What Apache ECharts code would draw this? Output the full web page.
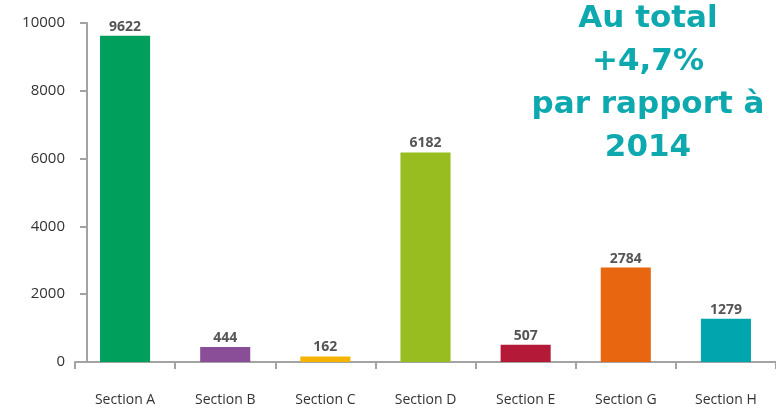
<!DOCTYPE html>
<html><head><meta charset="utf-8">
<script src="https://cdn.jsdelivr.net/npm/echarts@6/dist/echarts.min.js"></script>
<style>html,body{margin:0;padding:0;background:#fff}#c{width:776px;height:414px}</style>
</head><body><div id="c"></div>
<script>
const categories = ['Section A','Section B','Section C','Section D','Section E','Section G','Section H'];
const values = [9622, 444, 162, 6182, 507, 2784, 1279];
const barColors = ['#00a05c','#894e97','#f5b400','#97bd21','#b41937','#e8660f','#00a5ae'];
const yTicks = [0, 2000, 4000, 6000, 8000, 10000];
const annotation = 'Au total\n+4,7%\npar rapport à\n2014';

const chart = echarts.init(document.getElementById('c'), null, {renderer:'canvas'});
chart.setOption({
  animation: false,
  grid: {left: 75, top: 23, width: 707, bottom: 52},
  xAxis: {
    type: 'category', data: categories,
    axisLine: {lineStyle: {color: '#a3a3a3', width: 2}},
    axisTick: {show: true, length: 7, lineStyle: {color: '#a3a3a3', width: 2}},
    axisLabel: {color: '#333', fontSize: 14, fontFamily: 'Open Sans', margin: 31}
  },
  yAxis: {
    type: 'value', min: yTicks[0], max: yTicks[yTicks.length-1], interval: 2000,
    offset: -12,
    axisLine: {show: true, lineStyle: {color: '#a3a3a3', width: 2}},
    axisTick: {show: true, length: 7, lineStyle: {color: '#a3a3a3', width: 2}},
    splitLine: {show: false},
    axisLabel: {color: '#333', fontSize: 15, fontFamily: 'Open Sans', margin: 22, formatter: v => String(v)}
  },
  series: [{
    type: 'bar', barWidth: '50%',
    data: values.map((v, i) => ({value: v, itemStyle: {color: barColors[i]}})),
    label: {show: true, position: 'top', distance: 2, color: '#555', fontWeight: 'bold', fontSize: 14, fontFamily: 'Open Sans'}
  }],
  graphic: [{
    type: 'text', x: 648, y: -3,
    style: {text: annotation, fill: '#0ea8af', fontSize: 31, lineHeight: 43, fontFamily: 'DejaVu Sans', fontWeight: 'bold', align: 'center', verticalAlign: 'top'}
  }]
});
</script></body></html>
